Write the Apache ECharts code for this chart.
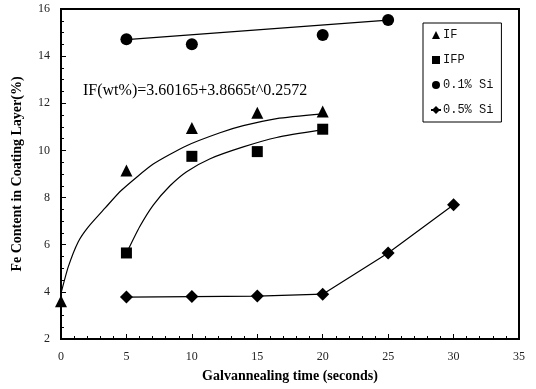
<!DOCTYPE html>
<html>
<head>
<meta charset="utf-8">
<script src="https://cdn.jsdelivr.net/npm/echarts@6/dist/echarts.min.js"></script>
<style>
html,body{margin:0;padding:0;background:#fff;}
#chart{width:536px;height:389px;}
</style>
</head>
<body>
<div id="chart"></div>
<script>
// Measured data points [time (s), Fe content (%)]
var ifData = [[0, 3.6], [5, 9.15], [10, 10.95], [15, 11.6], [20, 11.65]];
var ifpData = [[5, 5.65], [10, 9.75], [15, 9.95], [20, 10.9]];
var si01Data = [[5, 14.72], [10, 14.5], [20, 14.9], [25, 15.53]];
var si05Data = [[5, 3.78], [10, 3.8], [15, 3.82], [20, 3.9], [25, 5.65], [30, 7.7]];
// Trend curves
var ifCurve = [[0, 3.94], [0.56, 5.07], [1.32, 6.13], [2.09, 6.76], [3.36, 7.55], [4.6, 8.3], [7.05, 9.42], [9.6, 10.2], [12.15, 10.75], [13.93, 11.05], [16.48, 11.35], [20, 11.55]];
var ifpCurve = [[5.1, 5.75], [6.0, 6.75], [7.05, 7.68], [8.33, 8.5], [9.6, 9.1], [11.4, 9.65], [13.93, 10.15], [16.48, 10.55], [20, 10.88]];
var si01Trend = [[5, 14.7], [25, 15.53]];
var seriesNames = ['IF', 'IFP', '0.1% Si', '0.5% Si'];
var annotation = 'IF(wt%)=3.60165+3.8665t^0.2572';

var chart = echarts.init(document.getElementById('chart'));
var serif = '"Liberation Serif", "DejaVu Serif", serif';
chart.setOption({
  animation: false,
  backgroundColor: '#fff',
  grid: {left: 61, right: 17, top: 9, bottom: 50, show: true, borderColor: '#000', borderWidth: 2},
  legend: {
    orient: 'vertical', left: 423, top: 23,
    data: seriesNames.map(function(n){return {name: n};}),
    backgroundColor: '#fff', borderColor: '#000', borderWidth: 1,
    padding: [6, 8, 6, 7], itemGap: 13, itemWidth: 10, itemHeight: 10,
    textStyle: {fontFamily: '"Liberation Mono", "DejaVu Sans Mono", monospace', fontSize: 12, color: '#111', padding: [0,0,0,-3]}
  },
  xAxis: {
    type: 'value', min: 0, max: 35, interval: 5,
    axisLine: {lineStyle: {color: '#000', width: 2}},
    axisTick: {inside: true, length: 5, lineStyle: {color: '#000'}},
    minorTick: {show: true, splitNumber: 5, length: 3, lineStyle: {color: '#000'}},
    splitLine: {show: false},
    axisLabel: {color: '#222', fontFamily: serif, fontSize: 12, margin: 12},
    name: 'Galvannealing time (seconds)', nameLocation: 'middle', nameGap: 30,
    nameTextStyle: {fontFamily: serif, fontWeight: 'bold', fontSize: 14, color: '#000'}
  },
  yAxis: {
    type: 'value', min: 2, max: 16, interval: 2,
    axisLine: {lineStyle: {color: '#000', width: 2}},
    axisTick: {inside: true, length: 5, lineStyle: {color: '#000'}},
    minorTick: {show: true, splitNumber: 4, length: 3, lineStyle: {color: '#000'}},
    splitLine: {show: false},
    axisLabel: {color: '#222', fontFamily: serif, fontSize: 12, margin: 11},
    name: 'Fe Content in Coating Layer(%)', nameLocation: 'middle', nameGap: 37,
    nameTextStyle: {fontFamily: serif, fontWeight: 'bold', fontSize: 14, color: '#000'}
  },
  graphic: [{
    type: 'text', left: 83, top: 83,
    style: {text: annotation, fontFamily: serif, fontSize: 16, fill: '#000'}
  }],
  series: [
    {name: 'IF', type: 'line', data: ifData, symbol: 'triangle', symbolSize: 12,
     lineStyle: {width: 0}, itemStyle: {color: '#000'}, z: 5},
    {name: 'IFP', type: 'line', data: ifpData, symbol: 'rect', symbolSize: 11,
     lineStyle: {width: 0}, itemStyle: {color: '#000'}, z: 5},
    {name: '0.1% Si', type: 'line', data: si01Data, symbol: 'circle', symbolSize: 12,
     lineStyle: {width: 0}, itemStyle: {color: '#000'}, z: 5},
    {name: '0.5% Si', type: 'line', data: si05Data, symbol: 'diamond', symbolSize: 13,
     lineStyle: {width: 1.2, color: '#000'}, itemStyle: {color: '#000'}, z: 5},
    {name: 'ifCurve', type: 'line', data: ifCurve, showSymbol: false, smooth: 0.2,
     lineStyle: {width: 1.2, color: '#000'}, silent: true},
    {name: 'ifpCurve', type: 'line', data: ifpCurve, showSymbol: false, smooth: 0.2,
     lineStyle: {width: 1.2, color: '#000'}, silent: true},
    {name: 'si01Trend', type: 'line', data: si01Trend, showSymbol: false,
     lineStyle: {width: 1.2, color: '#000'}, silent: true}
  ]
});
</script>
</body>
</html>
